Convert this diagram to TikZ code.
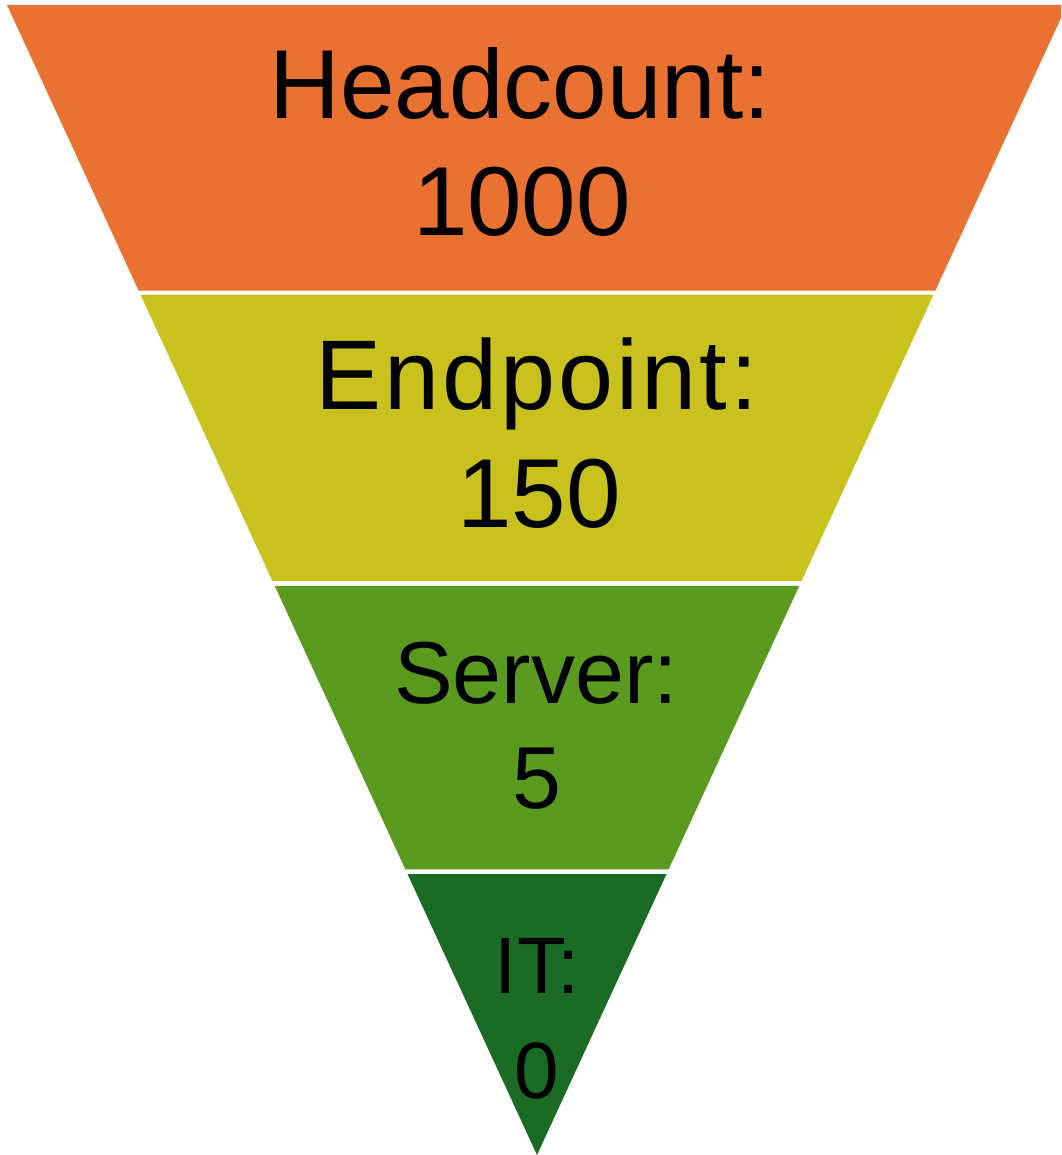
\documentclass[tikz,border=0pt]{standalone}
\usepackage{fontspec}
\setmainfont{Liberation Sans}
\usetikzlibrary{calc}

\definecolor{bandOrange}{HTML}{E97132}
\definecolor{bandYellow}{HTML}{C9C11E}
\definecolor{bandGreen}{HTML}{5A9A1F}
\definecolor{bandDark}{HTML}{1A6B24}

\begin{document}
\begin{tikzpicture}[x=1pt, y=-1pt,
  band/.style={fill=#1, draw=none},
  lbl/.style={anchor=base, inner sep=0pt, text=black,
              font=\fontsize{#1}{#1}\selectfont}]

  % canvas
  \path[use as bounding box, fill=white] (0,0) rectangle (1061,1155);

  % outer funnel: two top corners and the apex
  \coordinate (TL) at (7,5);
  \coordinate (TR) at (1067,5);
  \coordinate (A)  at (537,1155);

  \begin{scope}
    \clip (0,0) rectangle (1061,1155);
    % four stacked bands, separated by thin white gaps
    \fill[band=bandOrange] (TL) -- (TR) -- ($(TR)!0.2484!(A)$) -- ($(TL)!0.2484!(A)$) -- cycle;
    \fill[band=bandYellow] ($(TL)!0.2519!(A)$) -- ($(TR)!0.2519!(A)$) -- ($(TR)!0.5009!(A)$) -- ($(TL)!0.5009!(A)$) -- cycle;
    \fill[band=bandGreen]  ($(TL)!0.5050!(A)$) -- ($(TR)!0.5050!(A)$) -- ($(TR)!0.7516!(A)$) -- ($(TL)!0.7516!(A)$) -- cycle;
    \fill[band=bandDark]   ($(TL)!0.7557!(A)$) -- ($(TR)!0.7557!(A)$) -- (A) -- cycle;
  \end{scope}

  % labels
  \node[lbl=98] (hcLabel) at (520,119)  {Headcount:};
  \node[lbl=98] (hcValue) at (522,236)  {1000};
  \node[lbl=99] (epLabel) at (537,409)  {\addfontfeature{LetterSpace=3}Endpoint:};
  \node[lbl=98] (epValue) at (539,527)  {150};
  \node[lbl=88] (svLabel) at (536,703)  {Server:};
  \node[lbl=88] (svValue) at (537,808)  {5};
  \node[lbl=80] (itLabel) at (537,993)  {IT:};
  \node[lbl=80] (itValue) at (537,1098) {0};
\end{tikzpicture}
\end{document}
